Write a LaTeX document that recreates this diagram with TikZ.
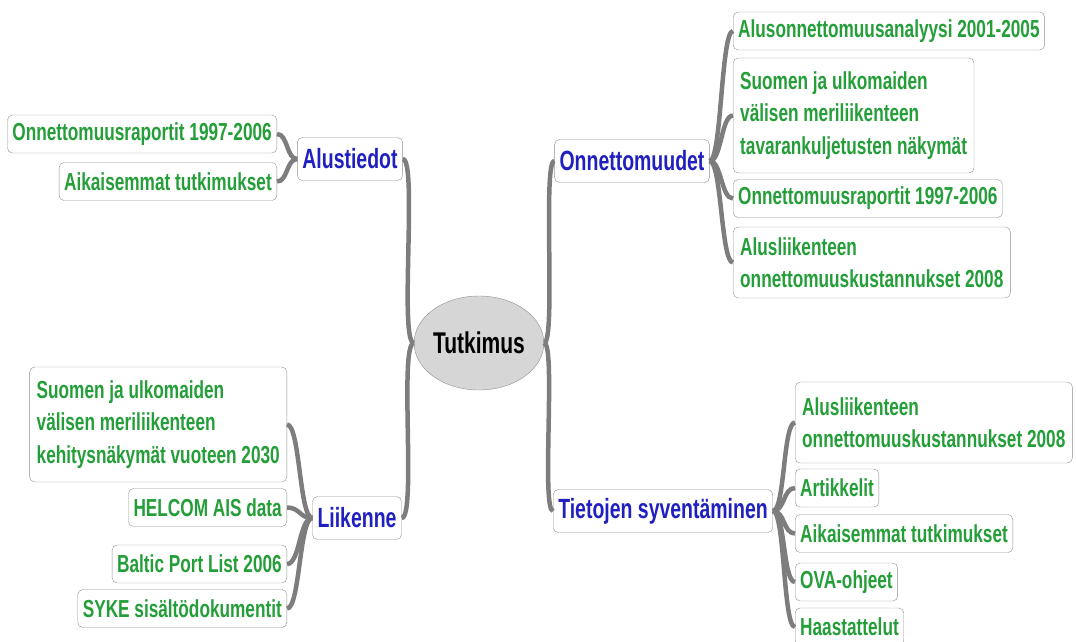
\documentclass[tikz,border=0pt]{standalone}
\usepackage{fontspec}
\newfontfamily\mapfont{Liberation Sans}[FakeStretch=0.70]
\usepackage{tikz}
\usetikzlibrary{shapes.geometric}
\definecolor{leafgreen}{RGB}{36,158,56}
\definecolor{topicblue}{RGB}{32,32,192}
\definecolor{linkgray}{RGB}{125,125,125}
\definecolor{boxgray}{RGB}{145,145,145}
\definecolor{centerfill}{RGB}{214,214,214}
\tikzset{
  mapcenter/.style={ellipse,draw=boxgray,fill=centerfill,minimum width=108pt,
    minimum height=94pt,inner sep=0pt,font=\mapfont\bfseries\fontsize{30}{34}\selectfont},
  topicbox/.style={draw=boxgray,rounded corners=5pt,fill=white,text=topicblue,
    minimum height=43pt,inner xsep=5pt,font=\mapfont\bfseries\fontsize{27.8}{32}\selectfont},
  leafbox/.style={draw=boxgray,rounded corners=5pt,fill=white,text=leafgreen,
    minimum height=38pt,inner xsep=5pt,align=left,
    font=\mapfont\bfseries\fontsize{24.6}{32.5}\selectfont},
  branchline/.style={linkgray,line width=4.5pt}
}
\begin{document}
\begin{tikzpicture}[x=1pt,y=-1pt]
  \useasboundingbox (0,0) rectangle (1076,641);

  \node[mapcenter] (tutk) at (479,343) {Tutkimus};

  % aiheet
  \node[topicbox] (alus) at (350,159) {Alustiedot};
  \node[topicbox] (onn)  at (632,161) {Onnettomuudet};
  \node[topicbox] (liik) at (357,518) {Liikenne};
  \node[topicbox] (tiet) at (663,511) {Tietojen syventäminen};

  % Alustiedot
  \node[leafbox,anchor=east] (alus1) at (277,134) {Onnettomuusraportit 1997-2006};
  \node[leafbox,anchor=east] (alus2) at (277,181.5) {Aikaisemmat tutkimukset};

  % Onnettomuudet
  \node[leafbox,anchor=west] (onn1) at (733,31) {Alusonnettomuusanalyysi 2001-2005};
  \node[leafbox,anchor=west,minimum height=115pt,inner xsep=7pt] (onn2) at (733,115.5)
    {Suomen ja ulkomaiden\\välisen meriliikenteen\\tavarankuljetusten näkymät};
  \node[leafbox,anchor=west] (onn3) at (733,198.5) {Onnettomuusraportit 1997-2006};
  \node[leafbox,anchor=west,minimum height=71pt,inner xsep=7pt] (onn4) at (733,262.5)
    {Alusliikenteen\\onnettomuuskustannukset 2008};

  % Liikenne
  \node[leafbox,anchor=east,minimum height=115pt,inner xsep=7pt] (liik1) at (287,424.5)
    {Suomen ja ulkomaiden\\välisen meriliikenteen\\kehitysnäkymät vuoteen 2030};
  \node[leafbox,anchor=east] (liik2) at (287,507.5) {HELCOM AIS data};
  \node[leafbox,anchor=east] (liik3) at (287,564) {Baltic Port List 2006};
  \node[leafbox,anchor=east] (liik4) at (287,608.5) {SYKE sisältödokumentit};

  % Tietojen syventäminen
  \node[leafbox,anchor=west,minimum height=81pt,inner xsep=7pt] (tiet1) at (795,422.5)
    {Alusliikenteen\\onnettomuuskustannukset 2008};
  \node[leafbox,anchor=west] (tiet2) at (795,488) {Artikkelit};
  \node[leafbox,anchor=west] (tiet3) at (795,533.5) {Aikaisemmat tutkimukset};
  \node[leafbox,anchor=west] (tiet4) at (795,582) {OVA-ohjeet};
  \node[leafbox,anchor=west] (tiet5) at (795,627) {Haastattelut};

  % keskeltä aiheisiin
  \draw[branchline] (tutk.west) .. controls +(-15,0) and +(15,0) .. (alus.east);
  \draw[branchline] (tutk.west) .. controls +(-15,0) and +(15,0) .. (liik.east);
  \draw[branchline] (tutk.east) .. controls +(12,0) and +(-12,0) .. (onn.west);
  \draw[branchline] (tutk.east) .. controls +(12,0) and +(-12,0) .. (tiet.west);

  % aiheista lehtiin
  \foreach \leaf in {alus1,alus2}
    \draw[branchline] (alus.west) .. controls +(-11,0) and +(11,0) .. (\leaf.east);
  \foreach \leaf in {onn1,onn2,onn3,onn4}
    \draw[branchline] (onn.east) .. controls +(12,0) and +(-12,0) .. (\leaf.west);
  \foreach \leaf in {liik1,liik2,liik3,liik4}
    \draw[branchline] (liik.west) .. controls +(-13,0) and +(13,0) .. (\leaf.east);
  \foreach \leaf in {tiet1,tiet2,tiet3,tiet4,tiet5}
    \draw[branchline] (tiet.east) .. controls +(12,0) and +(-12,0) .. (\leaf.west);
\end{tikzpicture}
\end{document}
